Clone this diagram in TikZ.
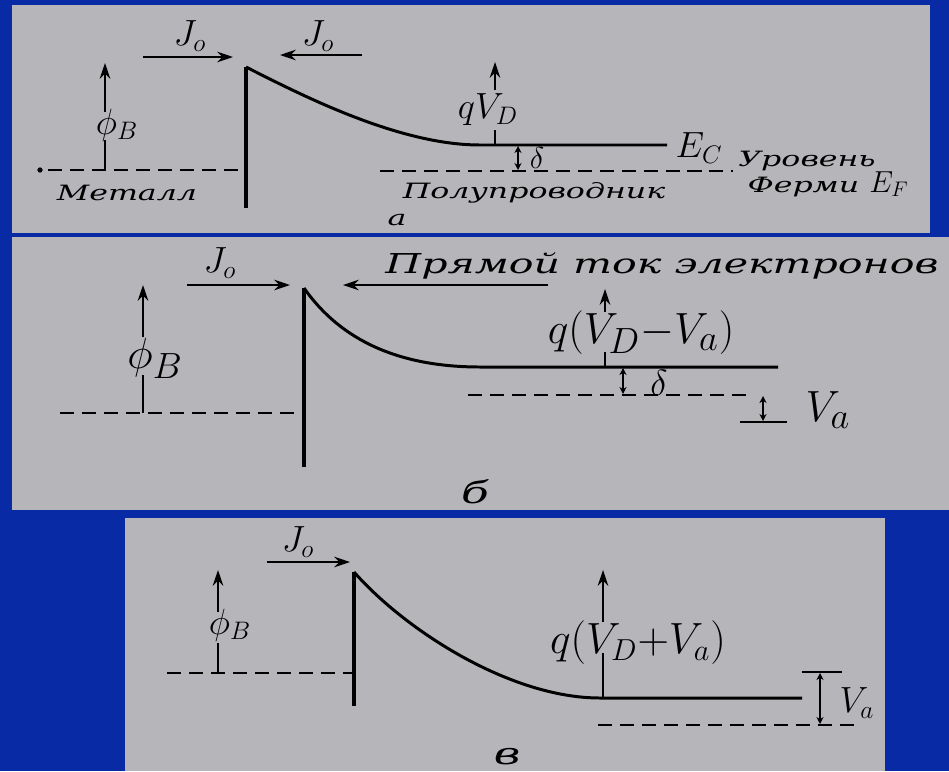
\documentclass[tikz,border=0pt]{standalone}
\usepackage{fontspec}
\newfontfamily\rufont[FakeStretch=1.5]{DejaVu Serif}
\usetikzlibrary{arrows.meta}
\definecolor{slideblue}{RGB}{8,42,165}
\definecolor{panelgray}{RGB}{182,182,186}
\tikzset{
  band/.style={line width=1.7pt},
  wall/.style={line width=2.4pt},
  fermi/.style={line width=1.1pt,dash pattern=on 8pt off 4.5pt},
  flux/.style={line width=1pt,-{Stealth[length=9pt,width=6pt]}},
  tick/.style={line width=1pt},
  gap/.style={line width=0.9pt,{Stealth[length=4pt,width=4pt]}-{Stealth[length=4pt,width=4pt]}},
  rutext/.style={font=\rufont\itshape\large,inner sep=0pt},
  symA/.style={font=\huge,inner sep=0pt},
  symB/.style={font=\Huge,inner sep=0pt},
}
\begin{document}
\begin{tikzpicture}[x=0.02cm,y=-0.02cm]
\fill[slideblue] (0,0) rectangle (949,771);
\useasboundingbox (0,0) rectangle (949,771);
\fill[panelgray] (12,5) rectangle (930,233);
\fill[panelgray] (12,237) rectangle (949,510);
\fill[panelgray] (125,518) rectangle (885,771);
% a
\draw[flux] (143,57) -- (233,57);
\draw[flux] (362,55) -- (280,55);
\node[symA] (jaL) at (190,36) {$J_o$};
\node[symA] (jaR) at (318,36) {$J_o$};
\draw[flux] (105,112) -- (105,63);
\draw[tick] (105,140) -- (105,170);
\node[symA] (phia) at (117,125) {$\phi_B$};
\fill (40,170) circle (1.5pt);
\draw[fermi] (48,170) -- (246,170);
\draw[fermi] (380,171) -- (733,171);
\draw[wall] (246,208) -- (246,67);
\draw[band] (246,67) .. controls (305,97) and (400,145) .. (480,145) -- (667,145);
\draw[flux] (495,90) -- (495,62);
\draw[tick] (495,130) -- (495,145);
\node[symA] (qva) at (488,110) {$qV_D$};
\draw[gap] (518,146) -- (518,170);
\node[symA,font=\LARGE] (dela) at (537,158) {$\delta$};
\node[symA] (eca) at (699,148) {$E_C$};
\node[rutext] (meta) at (127,193) {Металл};
\node[rutext] (polua) at (534,193) {Полупроводник};
\node[rutext] (urova) at (807,161) {Уровень};
\node[rutext] (fermia) at (828,184) {Ферми {\LARGE$E_F$}};
\node[rutext] (capa) at (397,220) {а};
% b
\draw[flux] (187,285) -- (290,285);
\node[symA] (jb) at (220,263) {$J_o$};
\draw[flux] (548,285) -- (343,285);
\node[rutext,font=\rufont\itshape\fontsize{15.6}{18}\selectfont] (fwd) at (662,266) {Прямой ток электронов};
\draw[flux] (143,337) -- (143,285);
\draw[tick] (143,375) -- (143,413);
\node[symB] (phib) at (155,358) {$\phi_B$};
\draw[fermi] (60,413) -- (304,413);
\draw[fermi] (468,395) -- (747,395);
\draw[wall] (304,467) -- (304,288);
\draw[band] (304,288) .. controls (341,341) and (400,367) .. (480,367) -- (778,367);
\draw[flux] (605,312) -- (605,289);
\draw[tick] (605,352) -- (605,367);
\node[symB] (qvb) at (641,333) {$q(V_D{-}V_a)$};
\draw[gap] (623,368) -- (623,394);
\node[symA] (delb) at (659,383) {$\delta$};
\draw[gap] (763,396) -- (763,421);
\draw[tick] (740,422) -- (787,422);
\node[symB] (vab) at (828,410) {$V_a$};
\node[rutext,font=\rufont\itshape\LARGE] (capb) at (475,492) {б};
% v
\draw[flux] (267,562) -- (350,562);
\node[symA] (jc) at (298,542) {$J_o$};
\draw[flux] (218,612) -- (218,570);
\draw[tick] (218,643) -- (218,673);
\node[symA] (phic) at (230,625) {$\phi_B$};
\draw[fermi] (167,673) -- (354,673);
\draw[wall] (354,706) -- (354,572);
\draw[band] (354,572) .. controls (405,630) and (510,698) .. (600,698) -- (802,698);
\draw[flux] (603,622) -- (603,570);
\draw[tick] (603,653) -- (603,698);
\node[symB,font=\fontsize{23.5}{28}\selectfont] (qvc) at (638,643) {$q(V_D{+}V_a)$};
\draw[tick] (802,672) -- (842,672);
\draw[gap] (820,673) -- (820,724);
\draw[fermi] (598,725) -- (858,725);
\node[symA] (vac) at (857,703) {$V_a$};
\node[rutext,font=\rufont\itshape\LARGE] (capc) at (507,757) {в};
\end{tikzpicture}
\end{document}
